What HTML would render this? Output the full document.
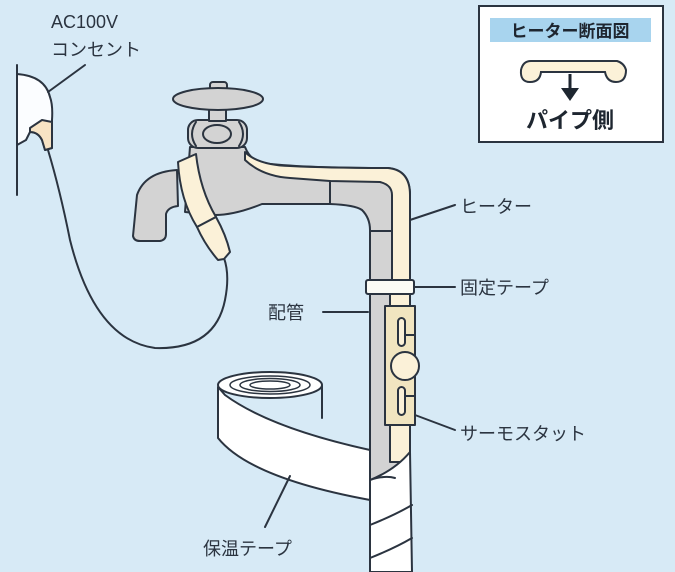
<!DOCTYPE html>
<html><head><meta charset="utf-8"><style>
html,body{margin:0;padding:0;background:#d7eaf6;}
svg{display:block;font-family:"Liberation Sans","Noto Sans CJK JP",sans-serif;}
</style></head><body>
<svg width="675" height="572" viewBox="0 0 675 572" xmlns="http://www.w3.org/2000/svg">
<rect width="675" height="572" fill="#d7eaf6"/>
<g stroke="#2b3440" stroke-width="2" stroke-linejoin="round" stroke-linecap="round">
<line x1="17" y1="65" x2="17" y2="195"/>
<path d="M17 74 Q45 76 50 97 Q53 105 52 120 L52 148 L45 150 L42 140 Q38 132 30 132 L26 140 L17 145 Z" fill="#fbfdff"/>
<path d="M30 128 L42 120 L52 122 L52 148 L45 150 L42 140 Q38 132 30 132 Z" fill="#f7e3c4"/>
<line x1="48" y1="92" x2="85" y2="65"/>
<path d="M48 150 Q60 190 70 240 Q95 340 155 348 Q215 350 225 300 Q230 275 224 258" fill="none"/>
<path d="M177 170 Q145 172 137 195 L133 236 Q134 241 140 241 L160 241 Q166 240 166 234 L166 214 Q168 207 178 206 Z" fill="#d3d3d3"/>
<path d="M190 147 L245 147 Q250 160 262 163 Q300 168 388 168 Q410 170 410 195 L410 572 L370 572 L370 230 Q370 218 362 210 Q355 205 330 204 L262 204 Q235 215 215 215 L185 212 Z" fill="#d3d3d3"/>
<path d="M245 152 Q258 165 290 166 Q330 168 388 168 Q410 170 410 195 L410 290 L392 290 L392 195 Q392 185 380 182 L330 181 L290 178 Q262 176 245 160 Z" fill="#fbf1d8"/>
<line x1="330" y1="181" x2="330" y2="204"/>
<line x1="370" y1="231" x2="392" y2="231"/>
<rect x="188" y="120" width="59" height="28" rx="10" fill="#d3d3d3"/>
<ellipse cx="217" cy="134" rx="14" ry="9" fill="#d3d3d3"/>
<path d="M196 122 Q188 134 196 146 M239 122 Q247 134 239 146" fill="none"/>
<rect x="209" y="105" width="17" height="16" fill="#d3d3d3"/>
<rect x="210" y="82" width="17" height="8" rx="3" fill="#d3d3d3"/>
<ellipse cx="218" cy="99" rx="45" ry="11" fill="#d3d3d3"/>
<!-- heater wrap on faucet -->
<path d="M178 162 L196 154 Q200 190 216 217 L197 227 Q180 200 178 162 Z" fill="#fbf1d8"/>
<path d="M197 227 L216 217 Q226 235 230 252 L224 259 L218 260 Q205 245 197 227 Z" fill="#fbf1d8"/>
<rect x="370" y="290" width="40" height="282" fill="#d3d3d3"/>
<rect x="390" y="292" width="20" height="170" fill="#fbf1d8"/>
<rect x="366" y="280" width="48" height="14" rx="2" fill="#fbfbf5"/>
<rect x="385" y="306" width="30" height="119" fill="#f1e5c0"/>
<rect x="398" y="318" width="7" height="28" rx="3.5" fill="#fbf1d8"/>
<rect x="398" y="387" width="7" height="28" rx="3.5" fill="#fbf1d8"/>
<line x1="405" y1="335" x2="414" y2="335"/><line x1="405" y1="396" x2="414" y2="396"/>
<circle cx="405" cy="366" r="14" fill="#fbf1d8"/>
<path d="M370 480 Q395 470 410 452 L412 572 L370 572 Z" fill="#fff"/>
<path d="M370 525 Q395 515 412 505 M370 558 Q395 548 412 538" fill="none"/>
<path d="M218 387 L218 438 Q250 478 370 500 L370 450 Q270 428 225 395 Z" fill="#fff"/>
<path d="M370 480 Q385 475 395 478" fill="none"/>
<ellipse cx="270" cy="385" rx="52" ry="13" fill="#fff"/>
<ellipse cx="270" cy="385" rx="40" ry="9" fill="none" stroke-width="1.5"/>
<ellipse cx="270" cy="385" rx="30" ry="6.5" fill="none" stroke-width="1.5"/>
<ellipse cx="270" cy="385" rx="20" ry="4" fill="#fff" stroke-width="1.5"/>
<path d="M322 386 L322 418" fill="none"/>
<line x1="410" y1="220" x2="455" y2="205"/>
<line x1="414" y1="287" x2="455" y2="287"/>
<line x1="323" y1="312" x2="368" y2="312"/>
<line x1="415" y1="415" x2="455" y2="430"/>
<line x1="265" y1="527" x2="290" y2="476"/>
</g>
<g fill="#2b3440" font-size="18">
<text x="51" y="28">AC100V</text>
<text x="51" y="56">コンセント</text>
<text x="460" y="213">ヒーター</text>
<text x="460" y="294">固定テープ</text>
<text x="268" y="319">配管</text>
<text x="460" y="440">サーモスタット</text>
<text x="203" y="555">保温テープ</text>
</g>
<rect x="479" y="6" width="184" height="136" fill="#fff" stroke="#2b3440" stroke-width="2"/>
<rect x="490" y="18" width="161" height="24" fill="#a8d4ee"/>
<text x="570" y="37" text-anchor="middle" font-size="17" font-weight="bold" fill="#1e2630">ヒーター断面図</text>
<path d="M531 61 L617 61 Q624 63 626 70 Q626 82 616 82 Q607 82 605 72 L541 72 Q540 82 530 82 Q520 82 521 70 Q523 61 531 61 Z" fill="#fbf1d8" stroke="#2b3440" stroke-width="2"/>
<line x1="570" y1="74" x2="570" y2="90" stroke="#1e2630" stroke-width="3"/>
<path d="M561 88 L579 88 L570 101 Z" fill="#1e2630"/>
<text x="570" y="128" text-anchor="middle" font-size="22" font-weight="bold" fill="#1e2630">パイプ側</text>
</svg>
</body></html>
